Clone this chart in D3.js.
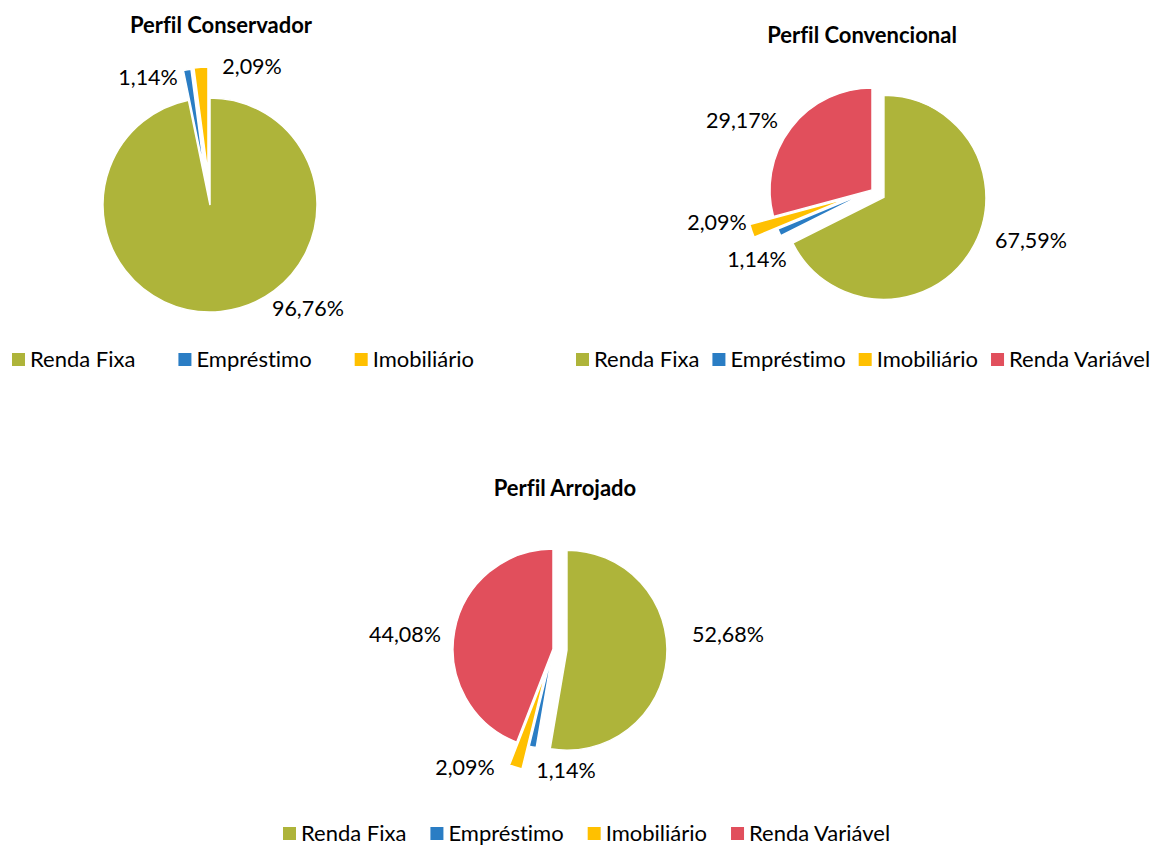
<!DOCTYPE html>
<meta charset="utf-8">
<style>
body { margin: 0; background: #fff; }
svg text { font-family: Lato, "Open Sans", sans-serif; fill: #000; font-variant-ligatures: none; }
.title { font-weight: bold; font-size: 22px; }
.lbl { font-size: 21.5px; }
.leg text { font-size: 22px; }
.slices path { stroke: #fff; stroke-width: 1.5px; }
</style>
<svg width="1161" height="845"></svg>
<script src="https://d3js.org/d3.v7.min.js"></script>
<script>

// categorias e valores (%)
var categories = ["Renda Fixa", "Empréstimo", "Imobiliário", "Renda Variável"];
var colors = ["#aeb43a", "#2a7dc4", "#ffc000", "#e14f5c"];

var conservador = [96.76, 1.14, 2.09];
var convencional = [67.59, 1.14, 2.09, 29.17];
var arrojado = [52.68, 1.14, 2.09, 44.08];

var labelsConservador = ["96,76%", "1,14%", "2,09%"];
var labelsConvencional = ["67,59%", "1,14%", "2,09%", "29,17%"];
var labelsArrojado = ["52,68%", "1,14%", "2,09%", "44,08%"];

var svg = d3.select("svg");

// layout de cada grafico (centro, raio, explosao por fatia, rotulos em polar)
var charts = [
  { title: "Perfil Conservador", values: conservador, labels: labelsConservador,
    cx: 210, cy: 205, r: 107, explode: [0, 30, 31],
    labelAng: [136.6, 334.1, 16.9], labelDist: [142.5, 141.8, 144.7],
    titleX: 221, titleY: 33,
    legX: 12, legY: 367, legGap: 43 },
  { title: "Perfil Convencional", values: convencional, labels: labelsConvencional,
    cx: 872, cy: 190, r: 102, explode: [14, 0, 25, 0],
    labelAng: [107.6, 238.9, 258.2, 298.1], labelDist: [166.8, 134.4, 158.4, 147.4],
    titleX: 862, titleY: 43,
    legX: 576, legY: 367, legGap: 13 },
  { title: "Perfil Arrojado", values: arrojado, labels: labelsArrojado,
    cx: 553, cy: 649, r: 100, explode: [14, 0, 24, 0],
    labelAng: [85.3, 173.9, 216.6, 275.6], labelDist: [175.6, 122.2, 147.6, 148.7],
    titleX: 565, titleY: 496,
    legX: 283, legY: 841, legGap: 24 }
];

var pie = d3.pie().sort(null).value(function(d) { return d; });

charts.forEach(function(c) {
  var g = svg.append("g");
  var arc = d3.arc().innerRadius(0).outerRadius(c.r);
  var arcs = pie(c.values);

  g.append("text")
      .attr("class", "title")
      .attr("x", c.titleX)
      .attr("y", c.titleY)
      .attr("text-anchor", "middle")
      .text(c.title);

  // fatias, deslocadas ao longo da bissetriz
  g.append("g")
      .attr("class", "slices")
    .selectAll("path")
    .data(arcs)
    .enter().append("path")
      .attr("fill", function(d, i) { return colors[i]; })
      .attr("d", arc)
      .attr("transform", function(d, i) {
        var a = (d.startAngle + d.endAngle) / 2, e = c.explode[i];
        return "translate(" + (c.cx + e * Math.sin(a)) + "," + (c.cy - e * Math.cos(a)) + ")";
      });

  // rotulos de dados
  g.append("g")
    .selectAll("text")
    .data(arcs)
    .enter().append("text")
      .attr("class", "lbl")
      .attr("text-anchor", "middle")
      .attr("dy", "0.35em")
      .attr("x", function(d, i) { return c.cx + c.labelDist[i] * Math.sin(c.labelAng[i] * Math.PI / 180); })
      .attr("y", function(d, i) { return c.cy - c.labelDist[i] * Math.cos(c.labelAng[i] * Math.PI / 180); })
      .text(function(d, i) { return c.labels[i]; });

  // legenda
  var leg = g.append("g").attr("class", "leg");
  var x = c.legX;
  c.values.forEach(function(v, i) {
    leg.append("rect")
        .attr("x", x)
        .attr("y", c.legY - 14)
        .attr("width", 13)
        .attr("height", 13)
        .attr("fill", colors[i]);
    var t = leg.append("text")
        .attr("x", x + 18)
        .attr("y", c.legY)
        .text(categories[i]);
    x += 18 + t.node().getComputedTextLength() + c.legGap;
  });
});

</script>
